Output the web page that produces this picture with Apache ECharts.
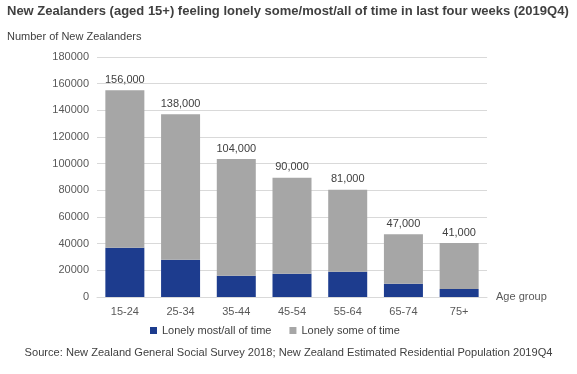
<!DOCTYPE html>
<html><head><meta charset="utf-8">
<script src="https://cdn.jsdelivr.net/npm/echarts@6/dist/echarts.min.js"></script>
<style>html,body{margin:0;padding:0;background:#fff}#c{width:577px;height:374px}</style>
</head><body><div id="c"></div>
<script>
var categories = ['15-24','25-34','35-44','45-54','55-64','65-74','75+'];
var lonelyMostAll = [37000, 28000, 16000, 17500, 19000, 10000, 6000];
var lonelySome = [118000, 109000, 87500, 72000, 61500, 37000, 34500];
var totalLabels = ['156,000','138,000','104,000','90,000','81,000','47,000','41,000'];

var FONT = '"Liberation Sans", Arial, sans-serif';
var chart = echarts.init(document.getElementById('c'), null, {renderer:'canvas'});
chart.setOption({
  animation:false,
  backgroundColor:'#fff',
  textStyle:{fontFamily:FONT},
  title:[
    {text:'New Zealanders (aged 15+) feeling lonely some/most/all of time in last four weeks (2019Q4)',
     left:7, top:5, padding:0, textStyle:{fontFamily:FONT, fontSize:13, fontWeight:'bold', color:'#404040'}},
    {text:'Number of New Zealanders', left:7, top:31, padding:0,
     textStyle:{fontFamily:FONT, fontSize:11, fontWeight:'normal', color:'#404040'}},
    {text:'Source: New Zealand General Social Survey 2018; New Zealand Estimated Residential Population 2019Q4',
     left:'center', top:347, padding:0, textStyle:{fontFamily:FONT, fontSize:11.1, fontWeight:'normal', color:'#404040'}}
  ],
  legend:{
    data:['Lonely most/all of time','Lonely some of time'],
    top:325, left:150, padding:0, icon:'rect', itemWidth:7, itemHeight:7, itemGap:18,
    textStyle:{fontFamily:FONT, fontSize:11, color:'#404040'}
  },
  grid:{left:97, right:90, top:57, bottom:77, containLabel:false},
  xAxis:{
    type:'category', data:categories,
    name:'Age group', nameLocation:'end', nameGap:9,
    nameTextStyle:{fontFamily:FONT, fontSize:11, color:'#595959'},
    axisLine:{lineStyle:{color:'#D9D9D9'}},
    axisTick:{show:false},
    axisLabel:{fontFamily:FONT, fontSize:11, color:'#595959', margin:9}
  },
  yAxis:{
    type:'value', min:0, max:180000, interval:20000,
    axisLine:{show:false}, axisTick:{show:false},
    splitLine:{lineStyle:{color:'#D9D9D9'}},
    axisLabel:{fontFamily:FONT, fontSize:11, color:'#595959', margin:8,
      formatter:function(v){return String(v);}}
  },
  series:[
    {name:'Lonely most/all of time', type:'bar', stack:'a', data:lonelyMostAll,
     barCategoryGap:'30%', itemStyle:{color:'#1D3C8E'}},
    {name:'Lonely some of time', type:'bar', stack:'a', data:lonelySome,
     barCategoryGap:'30%', itemStyle:{color:'#A6A6A6'},
     label:{show:true, position:'top', distance:5, fontFamily:FONT, fontSize:11, color:'#404040',
       formatter:function(p){return totalLabels[p.dataIndex];}}}
  ]
});
</script></body></html>
